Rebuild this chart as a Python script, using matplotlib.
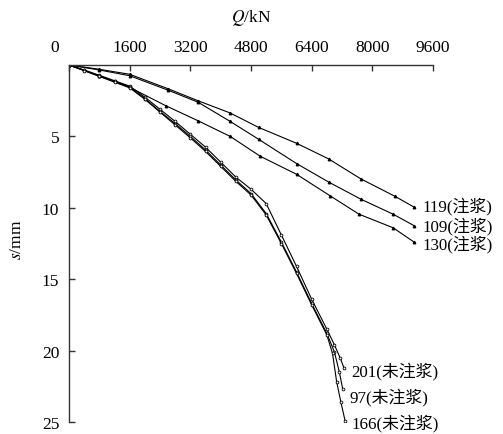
import matplotlib
matplotlib.use("Agg")
import matplotlib.pyplot as plt

plt.rcParams['font.family'] = ['Liberation Serif', 'Noto Sans CJK SC']
plt.rcParams['mathtext.fontset'] = 'stix'

# grouted piles
q119 = [0, 800, 1600, 2600, 3400, 4250, 5000, 6000, 6850, 7700, 8600, 9100]
s119 = [0, 0.3, 0.65, 1.65, 2.5, 3.36, 4.37, 5.48, 6.58, 7.98, 9.2, 9.95]
q109 = [0, 800, 1600, 2600, 3400, 4250, 5000, 6000, 6850, 7700, 8550, 9100]
s109 = [0, 0.35, 0.75, 1.75, 2.6, 3.95, 5.2, 6.9, 8.2, 9.4, 10.45, 11.25]
q130 = [0, 800, 1600, 2550, 3400, 4250, 5050, 6000, 6880, 7650, 8550, 9100]
s130 = [0, 0.75, 1.56, 2.85, 3.9, 5.0, 6.4, 7.65, 9.15, 10.45, 11.4, 12.4]

# ungrouted piles
q201 = [0, 400, 800, 1200, 1600, 2000, 2400, 2800, 3200, 3600, 4000, 4400, 4800,
        5200, 5600, 6000, 6400, 6800, 7000, 7150, 7250]
s201 = [0, 0.35, 0.72, 1.1, 1.48, 2.25, 3.1, 3.95, 4.85, 5.75, 6.8, 7.85, 8.7,
        9.7, 11.9, 14.1, 16.4, 18.5, 19.6, 20.5, 21.2]
q97 = [0, 400, 800, 1200, 1600, 2000, 2400, 2800, 3200, 3600, 4000, 4400, 4800,
       5200, 5600, 6000, 6400, 6800, 7000, 7130, 7220]
s97 = [0, 0.38, 0.78, 1.15, 1.55, 2.35, 3.25, 4.1, 5.0, 5.95, 7.0, 8.05, 9.0,
       10.4, 12.4, 14.5, 16.7, 18.8, 20.1, 21.5, 22.7]
q166 = [0, 400, 800, 1200, 1600, 2000, 2400, 2800, 3200, 3600, 4000, 4400, 4800,
        5200, 5600, 6000, 6400, 6800, 6950, 7060, 7170, 7280]
s166 = [0, 0.4, 0.8, 1.2, 1.6, 2.4, 3.3, 4.2, 5.1, 6.05, 7.1, 8.15, 9.1,
        10.5, 12.5, 14.6, 16.8, 18.9, 20.2, 22.2, 23.6, 24.9]

grouted = [(q119, s119, '119(注浆)', (6, 1)),
           (q109, s109, '109(注浆)', (6, 0)),
           (q130, s130, '130(注浆)', (6, -1))]
ungrouted = [(q201, s201, '201(未注浆)', (5, -2)),
             (q97, s97, '97(未注浆)', (5, -5)),
             (q166, s166, '166(未注浆)', (5, -1))]

xticks = [0, 1600, 3200, 4800, 6400, 8000, 9600]
yticks = [5, 10, 15, 20, 25]

fig = plt.figure(figsize=(5.03, 4.35), dpi=100)
ax = fig.add_axes([69/503, 1-423/435, 364/503, 357/435])

for q, s, name, off in grouted:
    ax.plot(q, s, color='black', lw=0.8, marker='^', ms=1.8, mfc='black', mec='black')
    ax.annotate(name, xy=(q[-1], s[-1]), xytext=off, textcoords='offset points',
                ha='left', va='center', fontsize=12.2)
for q, s, name, off in ungrouted:
    ax.plot(q, s, color='black', lw=0.8, marker='o', ms=2.0, mfc='white', mec='black', mew=0.6)
    ax.annotate(name, xy=(q[-1], s[-1]), xytext=off, textcoords='offset points',
                ha='left', va='center', fontsize=12.2)

ax.set_xlim(0, 9600)
ax.set_ylim(25, 0)
ax.xaxis.tick_top()
ax.set_xticks(xticks)
ax.set_xticklabels([''] + [str(t) for t in xticks[1:]])
ax.set_yticks(yticks)
ax.tick_params(axis='both', direction='in', length=4.5, width=1, colors='#333333',
               labelcolor='black', labelsize=12.5, pad=7)
ax.spines['right'].set_visible(False)
ax.spines['bottom'].set_visible(False)
for sp in ('top', 'left'):
    ax.spines[sp].set_color('#333333')
    ax.spines[sp].set_linewidth(1)

ax.annotate('0', xy=(0, 1), xycoords='axes fraction', xytext=(-10, 7),
            textcoords='offset points', ha='center', va='bottom', fontsize=12.5)
fig.text(251/503, 1-18/435, '$Q$/kN', ha='center', va='center', fontsize=12.5)
fig.text(17/503, 1-240/435, '$s$/mm', ha='center', va='center', rotation=90, fontsize=12.5)

fig.savefig('out.png', dpi=100)
